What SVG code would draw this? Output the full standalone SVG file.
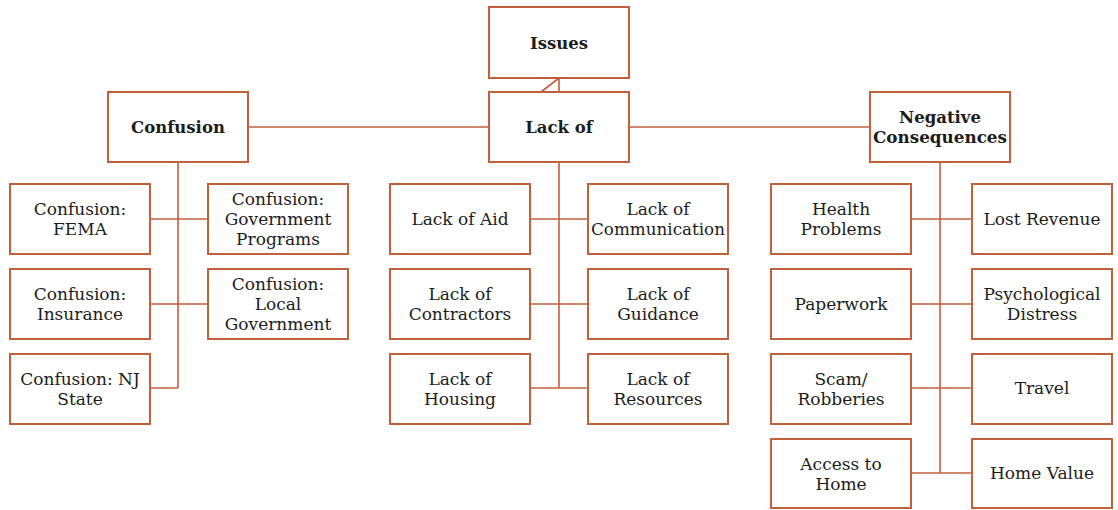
<svg xmlns="http://www.w3.org/2000/svg" width="1118" height="510" viewBox="0 0 1118 510">
  <style>
    .box { fill: #ffffff; stroke: #c2603c; stroke-width: 2; }
    .link { fill: none; stroke: #c2603c; stroke-width: 1.6; }
    text { font-family: "DejaVu Serif", "Liberation Serif", serif; font-size: 17px; fill: #1c1c1c; text-anchor: middle; }
    .title { font-weight: bold; font-size: 16.5px; }
  </style>
  <rect width="1118" height="510" fill="#ffffff"/>

  <!-- connectors -->
  <g id="connectors">
    <path class="link" d="M559 78 V92 M559 78 L541 92"/>
    <path class="link" d="M248 127 H489 M629 127 H870"/>
    <!-- Confusion branch -->
    <path class="link" d="M178 162 V388 M150 219 H208 M150 304 H208 M150 388 H178"/>
    <!-- Lack of branch -->
    <path class="link" d="M559 162 V388 M530 219 H588 M530 304 H588 M530 388 H588"/>
    <!-- Negative Consequences branch -->
    <path class="link" d="M940 162 V473 M911 219 H972 M911 304 H972 M911 388 H972 M911 473 H972"/>
  </g>

  <!-- top level -->
  <g id="issues"><rect class="box" x="489" y="7" width="140" height="71"/><text class="title" x="559" y="49">Issues</text></g>
  <g id="confusion"><rect class="box" x="108" y="92" width="140" height="70"/><text class="title" x="178" y="133">Confusion</text></g>
  <g id="lack-of"><rect class="box" x="489" y="92" width="140" height="70"/><text class="title" x="559" y="133">Lack of</text></g>
  <g id="negative-consequences"><rect class="box" x="870" y="92" width="140" height="70"/><text class="title" x="940" y="123">Negative</text><text class="title" x="940" y="143" textLength="134" lengthAdjust="spacingAndGlyphs">Consequences</text></g>

  <!-- Confusion children -->
  <g id="confusion-fema"><rect class="box" x="10" y="184" width="140" height="70"/><text x="80" y="215">Confusion:</text><text x="80" y="235">FEMA</text></g>
  <g id="confusion-gov-programs"><rect class="box" x="208" y="184" width="140" height="70"/><text x="278" y="205">Confusion:</text><text x="278" y="225">Government</text><text x="278" y="245">Programs</text></g>
  <g id="confusion-insurance"><rect class="box" x="10" y="269" width="140" height="70"/><text x="80" y="300">Confusion:</text><text x="80" y="320">Insurance</text></g>
  <g id="confusion-local-gov"><rect class="box" x="208" y="269" width="140" height="70"/><text x="278" y="290">Confusion:</text><text x="278" y="310">Local</text><text x="278" y="330">Government</text></g>
  <g id="confusion-nj-state"><rect class="box" x="10" y="354" width="140" height="70"/><text x="80" y="385">Confusion: NJ</text><text x="80" y="405">State</text></g>

  <!-- Lack of children -->
  <g id="lack-aid"><rect class="box" x="390" y="184" width="140" height="70"/><text x="460" y="225">Lack of Aid</text></g>
  <g id="lack-communication"><rect class="box" x="588" y="184" width="140" height="70"/><text x="658" y="215">Lack of</text><text x="658" y="235" textLength="134" lengthAdjust="spacingAndGlyphs">Communication</text></g>
  <g id="lack-contractors"><rect class="box" x="390" y="269" width="140" height="70"/><text x="460" y="300">Lack of</text><text x="460" y="320">Contractors</text></g>
  <g id="lack-guidance"><rect class="box" x="588" y="269" width="140" height="70"/><text x="658" y="300">Lack of</text><text x="658" y="320">Guidance</text></g>
  <g id="lack-housing"><rect class="box" x="390" y="354" width="140" height="70"/><text x="460" y="385">Lack of</text><text x="460" y="405">Housing</text></g>
  <g id="lack-resources"><rect class="box" x="588" y="354" width="140" height="70"/><text x="658" y="385">Lack of</text><text x="658" y="405">Resources</text></g>

  <!-- Negative Consequences children -->
  <g id="health-problems"><rect class="box" x="771" y="184" width="140" height="70"/><text x="841" y="215">Health</text><text x="841" y="235">Problems</text></g>
  <g id="lost-revenue"><rect class="box" x="972" y="184" width="140" height="70"/><text x="1042" y="225">Lost Revenue</text></g>
  <g id="paperwork"><rect class="box" x="771" y="269" width="140" height="70"/><text x="841" y="310">Paperwork</text></g>
  <g id="psychological-distress"><rect class="box" x="972" y="269" width="140" height="70"/><text x="1042" y="300">Psychological</text><text x="1042" y="320">Distress</text></g>
  <g id="scam-robberies"><rect class="box" x="771" y="354" width="140" height="70"/><text x="841" y="385">Scam/</text><text x="841" y="405">Robberies</text></g>
  <g id="travel"><rect class="box" x="972" y="354" width="140" height="70"/><text x="1042" y="394">Travel</text></g>
  <g id="access-to-home"><rect class="box" x="771" y="439" width="140" height="69"/><text x="841" y="470">Access to</text><text x="841" y="490">Home</text></g>
  <g id="home-value"><rect class="box" x="972" y="439" width="140" height="69"/><text x="1042" y="479">Home Value</text></g>
</svg>
